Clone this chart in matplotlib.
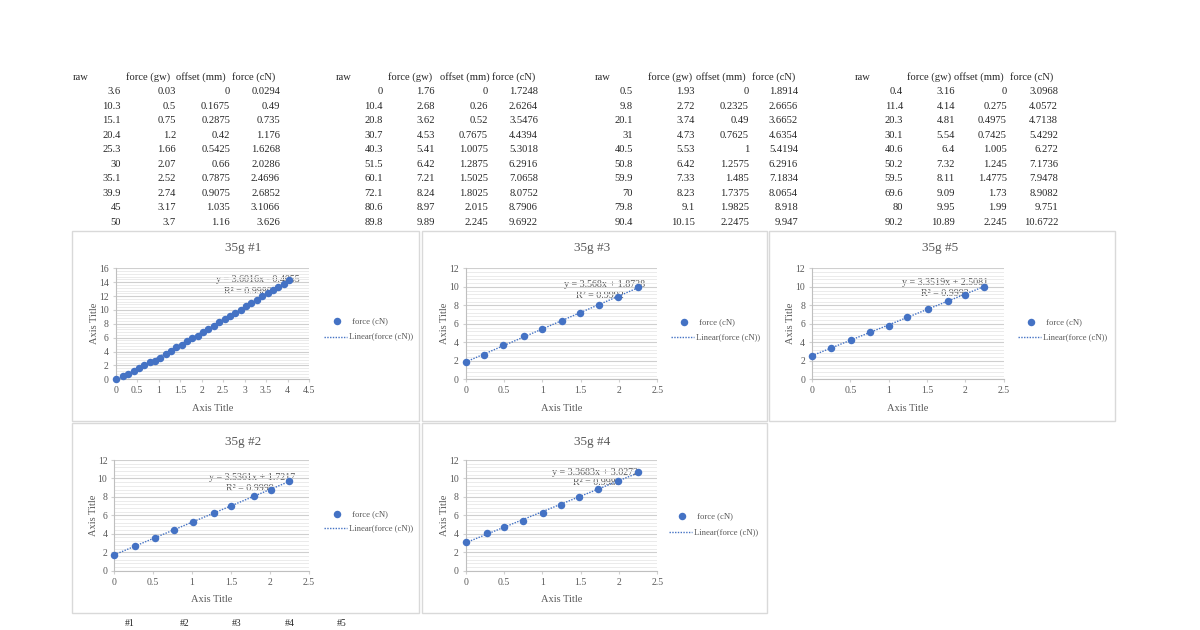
import numpy as np
import matplotlib
matplotlib.use("Agg")
import matplotlib.pyplot as plt
from matplotlib.patches import Rectangle
from matplotlib.ticker import MultipleLocator, FuncFormatter

plt.rcParams['font.family'] = ['Liberation Serif', 'DejaVu Serif']

# ---------------- data ----------------
headers = ["raw", "force (gw)", "offset (mm)", "force (cN)"]

t1_raw = [3.6, 10.3, 15.1, 20.4, 25.3, 30, 35.1, 39.9, 45, 50]
t1_gw = [0.03, 0.5, 0.75, 1.2, 1.66, 2.07, 2.52, 2.74, 3.17, 3.7]
t1_off = [0, 0.1675, 0.2875, 0.42, 0.5425, 0.66, 0.7875, 0.9075, 1.035, 1.16]
t1_cn = [0.0294, 0.49, 0.735, 1.176, 1.6268, 2.0286, 2.4696, 2.6852, 3.1066, 3.626]

t2_raw = [0, 10.4, 20.8, 30.7, 40.3, 51.5, 60.1, 72.1, 80.6, 89.8]
t2_gw = [1.76, 2.68, 3.62, 4.53, 5.41, 6.42, 7.21, 8.24, 8.97, 9.89]
t2_off = [0, 0.26, 0.52, 0.7675, 1.0075, 1.2875, 1.5025, 1.8025, 2.015, 2.245]
t2_cn = [1.7248, 2.6264, 3.5476, 4.4394, 5.3018, 6.2916, 7.0658, 8.0752, 8.7906, 9.6922]

t3_raw = [0.5, 9.8, 20.1, 31, 40.5, 50.8, 59.9, 70, 79.8, 90.4]
t3_gw = [1.93, 2.72, 3.74, 4.73, 5.53, 6.42, 7.33, 8.23, 9.1, 10.15]
t3_off = [0, 0.2325, 0.49, 0.7625, 1, 1.2575, 1.485, 1.7375, 1.9825, 2.2475]
t3_cn = [1.8914, 2.6656, 3.6652, 4.6354, 5.4194, 6.2916, 7.1834, 8.0654, 8.918, 9.947]

t4_raw = [0.4, 11.4, 20.3, 30.1, 40.6, 50.2, 59.5, 69.6, 80, 90.2]
t4_gw = [3.16, 4.14, 4.81, 5.54, 6.4, 7.32, 8.11, 9.09, 9.95, 10.89]
t4_off = [0, 0.275, 0.4975, 0.7425, 1.005, 1.245, 1.4775, 1.73, 1.99, 2.245]
t4_cn = [3.0968, 4.0572, 4.7138, 5.4292, 6.272, 7.1736, 7.9478, 8.9082, 9.751, 10.6722]

# chart #1 continues beyond the visible table rows
c1_off_extra = [1.285, 1.41, 1.535, 1.66, 1.785, 1.91, 2.035, 2.16, 2.285, 2.41, 2.535,
                2.66, 2.785, 2.91, 3.035, 3.16, 3.285, 3.41, 3.535, 3.66, 3.785, 3.91, 4.03]
c1_cn_extra = [4.15, 4.65, 5.0, 5.45, 5.95, 6.3, 6.8, 7.25, 7.7, 8.2, 8.65,
               9.15, 9.6, 10.05, 10.6, 11.05, 11.5, 11.95, 12.45, 12.9, 13.35, 13.8, 14.3]

# chart #5
c5_off = [0, 0.25, 0.51, 0.75, 1.0, 1.24, 1.51, 1.77, 2.0, 2.245]
c5_cn = [2.52, 3.42, 4.22, 5.08, 5.8, 6.77, 7.6, 8.5, 9.15, 10.02]

chart_titles = ["35g #1", "35g #3", "35g #5", "35g #2", "35g #4"]
equations = ["y = 3.6016x - 0.4055", "y = 3.568x + 1.8738", "y = 3.3519x + 2.5081",
             "y = 3.5361x + 1.7217", "y = 3.3683x + 3.0272"]
r2_labels = ["R² = 0.9989", "R² = 0.9992", "R² = 0.9993", "R² = 0.9999", "R² = 0.9989"]
bottom_labels = ["#1", "#2", "#3", "#4", "#5"]

# ---------------- figure ----------------
W, H = 1200, 630
fig = plt.figure(figsize=(W / 100, H / 100), dpi=100)
fig.patch.set_facecolor("white")

def fx(x):
    return x / W

def fy(y):
    return 1 - y / H

TXT = "#262626"
GREY = "#595959"
BLUE = "#4472C4"
MS = 5.4

def fmt(v):
    return "%g" % v

# ---------------- tables ----------------
tables = [
    (t1_raw, t1_gw, t1_off, t1_cn, 73, [121, 176, 230, 280], [126, 176, 232]),
    (t2_raw, t2_gw, t2_off, t2_cn, 336, [383, 435, 488, 538], [388, 440, 492]),
    (t3_raw, t3_gw, t3_off, t3_cn, 595, [633, 695, 749, 798], [648, 696, 752]),
    (t4_raw, t4_gw, t4_off, t4_cn, 855, [903, 955, 1007, 1058], [907, 954, 1010]),
]
head_y = 77.5
row0 = 91.5
dy = 14.55
FS = 7.6
for raw, gw, off, cn, rawx, rights, hx in tables:
    fig.text(fx(rawx), fy(head_y), headers[0], ha="left", va="center", fontsize=FS, color=TXT)
    for h, x in zip(headers[1:], hx):
        fig.text(fx(x), fy(head_y), h, ha="left", va="center", fontsize=FS, color=TXT)
    for i in range(len(raw)):
        yy = fy(row0 + i * dy)
        for col, xr in zip([raw, gw, off, cn], rights):
            fig.text(fx(xr), yy, fmt(col[i]), ha="right", va="center", fontsize=FS, color=TXT)

# ---------------- charts ----------------
charts = [
    (t1_off + c1_off_extra, t1_cn + c1_cn_extra, (72, 231, 419, 421), (115.7, 268.3, 309, 379.3), 4.5, 16,
     248, (336.7, 320.7), 336.5, (257.7, 280), (248.3, 292)),
    (t3_off, t3_cn, (422, 231, 767, 421), (465.7, 268.3, 657.3, 379.3), 2.5, 12,
     248, (684.3, 321.7), 336.7, (604.3, 284.3), (600, 295.7)),
    (c5_off, c5_cn, (769, 231, 1115, 421), (812, 268.3, 1003.7, 379.3), 2.5, 12,
     248, (1031, 322), 336.7, (945, 282.3), (945, 293.3)),
    (t2_off, t2_cn, (72, 423, 419, 613), (114.3, 460, 308.7, 570.7), 2.5, 12,
     441.7, (336.7, 513.7), 528.3, (251.7, 477.3), (250, 488.3)),
    (t4_off, t4_cn, (422, 423, 767, 613), (465.7, 460, 657.3, 570.7), 2.5, 12,
     441.7, (681.7, 515.7), 532, (595, 472.3), (596.7, 482.7)),
]

for k, (xs, ys, box, pa, xmax, ymax, ty, lm, ly, eqp, r2p) in enumerate(charts):
    bx0, by0, bx1, by1 = box
    fig.patches.append(Rectangle((fx(bx0), fy(by1)), (bx1 - bx0) / W, (by1 - by0) / H,
                                 transform=fig.transFigure, facecolor="white",
                                 edgecolor="#d9d9d9", linewidth=1.0, zorder=-10))
    l, t, r, b = pa
    ax = fig.add_axes([fx(l), fy(b), (r - l) / W, (b - t) / H])
    ax.set_zorder(1)
    ax.set_facecolor("none")
    xs = np.array(xs, dtype=float)
    ys = np.array(ys, dtype=float)
    ax.set_xlim(0, xmax)
    ax.set_ylim(0, ymax)
    ax.xaxis.set_major_locator(MultipleLocator(0.5))
    ax.yaxis.set_major_locator(MultipleLocator(2))
    ax.yaxis.set_minor_locator(MultipleLocator(0.4))
    ax.xaxis.set_major_formatter(FuncFormatter(lambda v, p: "%g" % v))
    ax.yaxis.set_major_formatter(FuncFormatter(lambda v, p: "%g" % v))
    ax.grid(axis="y", which="major", color="#cfcfcf", linewidth=0.8)
    ax.grid(axis="y", which="minor", color="#e8e8e8", linewidth=0.6)
    ax.set_axisbelow(True)
    for s in ["top", "right"]:
        ax.spines[s].set_visible(False)
    for s in ["left", "bottom"]:
        ax.spines[s].set_color("#bfbfbf")
        ax.spines[s].set_linewidth(0.8)
    ax.tick_params(which="major", length=2, color="#d0d0d0", labelsize=7, labelcolor=GREY, pad=3)
    ax.tick_params(which="minor", length=0)

    # trendline
    m, c0 = np.polyfit(xs, ys, 1)
    tx = np.array([xs.min(), xs.max()])
    ax.plot(tx, m * tx + c0, linestyle=(0, (1, 1)), color=BLUE, linewidth=1.0, zorder=2)
    ax.plot(xs, ys, "o", color=BLUE, markersize=MS, markeredgewidth=0, zorder=3, clip_on=False)

    ax.set_xlabel("Axis Title", fontsize=7.5, color=GREY, labelpad=6)
    ax.set_ylabel("Axis Title", fontsize=7.5, color=GREY, labelpad=0)

    fig.text(fx((bx0 + bx1) / 2 - 2), fy(ty), chart_titles[k], ha="center", va="center",
             fontsize=9.5, color=GREY)
    fig.text(fx(eqp[0]), fy(eqp[1]), equations[k], ha="center", va="center", fontsize=7.2, color=GREY, zorder=0)
    fig.text(fx(r2p[0]), fy(r2p[1]), r2_labels[k], ha="center", va="center", fontsize=7.2, color=GREY, zorder=0)

    # legend (drawn manually in figure coords)
    fig.lines.append(plt.Line2D([fx(lm[0])], [fy(lm[1])], marker="o", color=BLUE, markersize=MS,
                                markeredgewidth=0, transform=fig.transFigure))
    fig.text(fx(lm[0] + 15), fy(lm[1]), "force (cN)", ha="left", va="center", fontsize=6.2, color=GREY)
    fig.lines.append(plt.Line2D([fx(lm[0] - 13), fx(lm[0] + 10)], [fy(ly), fy(ly)], linestyle=(0, (1, 1)),
                                color=BLUE, linewidth=1.0, transform=fig.transFigure))
    fig.text(fx(lm[0] + 12), fy(ly), "Linear(force (cN))", ha="left", va="center", fontsize=6.2, color=GREY)

# bottom row (partially visible in the reference)
for lab, x in zip(bottom_labels, [130, 185, 237, 290, 342]):
    fig.text(fx(x), fy(628), lab, ha="center", va="bottom", fontsize=7, color=TXT)

fig.savefig("out.png", dpi=100, facecolor="white")
